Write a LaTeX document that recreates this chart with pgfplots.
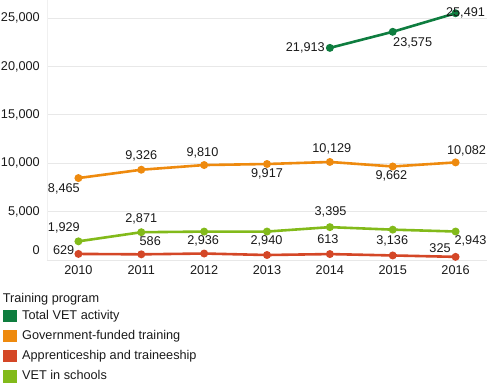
\documentclass[border=0pt]{standalone}
\usepackage{fontspec}
\setmainfont{Liberation Sans}
\usepackage{pgfplots}
\usepackage{pgfplotstable}
\pgfplotsset{compat=1.18}
\definecolor{cTotal}{HTML}{0E7D3F}
\definecolor{cGov}{HTML}{EE8A0E}
\definecolor{cApp}{HTML}{D44727}
\definecolor{cSch}{HTML}{82BA1A}
\definecolor{txt}{HTML}{1A1A1A}

\pgfplotstableread{
x y lab dx dy
2014 21913 21,913 -24.6 0
2015 23575 23,575 20 -10.9
2016 25491 25,491 10 0
}\total
\pgfplotstableread{
x y lab dx dy
2010 8465 8,465 -14.6 -11.2
2011 9326 9,326 0 13.7
2012 9810 9,810 -1.7 12.3
2013 9917 9,917 0 -10
2014 10129 10,129 2 12.7
2015 9662 9,662 -1.3 -9.5
2016 10082 10,082 11 11.7
}\gov
\pgfplotstableread{
x y lab dx dy
2010 629 629 -14.8 4
2011 586 586 9 13.7
2012 670 {} 0 0
2013 515 {} 0 0
2014 613 613 -2 14.7
2015 470 {} 0 0
2016 325 325 -15.6 9
}\app
\pgfplotstableread{
x y lab dx dy
2010 1929 1,929 -14.6 14
2011 2871 2,871 0 13
2012 2936 2,936 -1 -9
2013 2940 2,940 -0.5 -9
2014 3395 3,395 0.7 15
2015 3136 3,136 -0.5 -11
2016 2943 2,943 15 -9.5
}\sch

\pgfplotsset{
  lbl/.style={
    nodes near coords,
    point meta=explicit symbolic,
    visualization depends on={\thisrow{dx}\as\dx},
    visualization depends on={\thisrow{dy}\as\dy},
    every node near coord/.append style={anchor=center, text=txt, inner sep=0pt,
      xshift=\dx, yshift=\dy, font=\fontsize{12.7bp}{15bp}\selectfont},
  },
  ser/.style={color=#1, line width=2.6bp, mark=*, mark size=2.6bp,
    mark options={solid, fill=#1, draw=#1}},
}

\begin{document}
\begin{tikzpicture}[font=\fontsize{12.7bp}{15bp}\selectfont, text=txt]
\begin{axis}[
  scale only axis, width=440bp, height=260bp,
  xmin=2009.5, xmax=2016.5, ymin=0, ymax=26860,
  axis x line*=bottom, axis y line*=left,
  x axis line style={draw=black!6, line width=0.8bp},
  y axis line style={draw=black!6, line width=0.8bp},
  major tick length=0pt,
  xtick={2010,2011,...,2016},
  ytick={5000,10000,...,25000},
  scaled y ticks=false,
  extra y ticks={0},
  extra y tick style={yticklabel style={yshift=10bp}},
  ymajorgrids, grid style={draw=black!9, line width=0.8bp},
  /pgf/number format/assume math mode=true,
  /pgf/number format/1000 sep={,},
  xticklabel style={/pgf/number format/1000 sep=, anchor=center, yshift=-10bp, inner sep=0pt},
  yticklabel style={anchor=east, inner sep=0pt, xshift=-7bp},
  clip=false,
  legend cell align=left,
  legend style={at={(0,0)}, anchor=north west, xshift=-44.3bp, yshift=-49.3bp,
    draw=none, fill=none, inner sep=0pt, row sep=7.4bp,
    nodes={inner sep=0pt, text height=9.2bp, text depth=2.7bp, text=txt},
    /tikz/every odd column/.append style={column sep=5.3bp}},
  legend image code/.code={\fill[#1, draw=none] (0bp,-6.35bp) rectangle (14bp,6.35bp);},
]
\addplot+[ser=cTotal, lbl] table[x=x, y=y, meta=lab] {\total};
\addlegendentry{Total VET activity}
\addplot+[ser=cGov, lbl] table[x=x, y=y, meta=lab] {\gov};
\addlegendentry{Government-funded training}
\addplot+[ser=cApp, lbl] table[x=x, y=y, meta=lab] {\app};
\addlegendentry{Apprenticeship and traineeship}
\addplot+[ser=cSch, lbl] table[x=x, y=y, meta=lab] {\sch};
\addlegendentry{VET in schools}
\coordinate (LL) at (rel axis cs:0,0);
\coordinate (UR) at (rel axis cs:1,1);
\end{axis}
\node[anchor=base west, inner sep=0pt] at ([xshift=-44.3bp, yshift=-42.6bp]LL) {Training program};
\pgfresetboundingbox
\path[use as bounding box] ([xshift=-47bp, yshift=-125bp]LL) rectangle (UR);
\end{tikzpicture}
\end{document}
